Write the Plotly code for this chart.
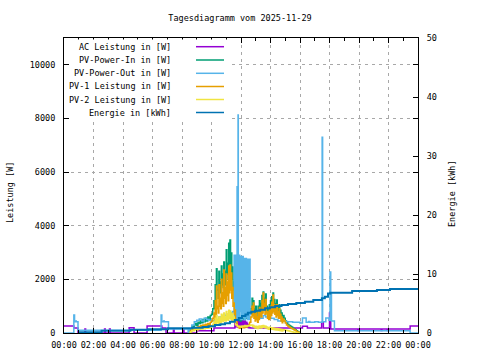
import plotly.graph_objects as go
import pandas as pd

DAY = "2025-11-29"

def ts(hm):
    h, m = hm.split(":")
    if h == "24":
        return "2025-11-30 00:00"
    return f"{DAY} {hm}"

# ---------------- data ----------------
# AC Leistung [W]
ac_times = ["00:00", "00:40", "00:57", "01:25", "01:28", "02:45", "02:48", "03:05", "03:08",
            "04:25", "04:45", "05:38", "06:38", "06:55", "07:25", "07:28", "08:05", "08:08",
            "09:00", "10:10",
            "11:35", "11:36", "11:37", "11:38", "11:39", "11:40", "11:41", "11:42", "11:43",
            "11:44", "11:45", "11:46", "11:47", "11:48", "11:49", "11:50", "11:51", "11:52",
            "11:53", "11:54", "11:55", "11:56", "11:57", "11:58", "11:59", "12:00", "12:02",
            "12:03", "12:05", "12:06", "12:08", "12:09", "12:11", "12:12", "12:14", "12:15",
            "12:17", "12:18", "12:20", "12:21", "12:23", "12:24", "12:26", "12:27", "12:29",
            "12:30", "12:32", "12:33", "12:37",
            "16:10", "16:30", "17:28", "17:35", "18:00", "18:05", "19:55", "19:58", "21:30",
            "21:33", "21:55", "21:58", "23:28", "24:00"]
ac_values = [260, 190, 0, 150, 0, 150, 0, 150, 0,
             200, 0, 260, 190, 0, 150, 0, 120, 0,
             80, 190,
             400, 220, 450, 250, 930, 300, 480, 250, 450,
             220, 500, 250, 420, 230, 480, 250, 450, 220,
             400, 250, 500, 230, 450, 250, 480, 220, 450,
             250, 480, 220, 420, 250, 450, 230, 400, 250,
             450, 220, 380, 250, 400, 230, 350, 220, 300,
             200, 280, 200, 190,
             250, 190, 400, 190, 750, 150, 90, 150, 90,
             150, 90, 150, 260, 260]

# PV-Power-In, PV-1, PV-2 [W] : 5-minute readings 08:30 ... 16:00
pv_start, pv_end = "08:30", "16:00"
pv_in = [50, 150, 250, 200, 300, 350,
         280, 400, 350, 450, 380, 500, 420, 550, 450, 600, 500, 650,
         700, 900, 1200, 1800, 2400, 1600, 2300, 1900, 2500, 2200, 2650, 2300,
         3100, 2600, 3350, 3470, 2980, 2460, 1900, 1340, 800, 600, 500, 450,
         500, 550, 500, 600, 550, 650, 700, 800, 900, 1300, 1200, 900,
         1000, 800, 1000, 1200, 1100, 1400, 1530, 1300, 1450, 1000, 900, 1050,
         1200, 1350, 1490, 1250, 1100, 1230, 950, 1050, 850, 750, 650, 550,
         450, 380, 320, 280, 250, 220, 180, 150, 120, 80, 50, 20,
         0]
pv1 = [20, 80, 120, 100, 150, 200,
       150, 230, 200, 280, 220, 300, 250, 330, 260, 350, 300, 400,
       450, 550, 750, 1200, 1750, 1000, 1800, 1300, 2000, 1500, 2350, 1700,
       2200, 1900, 2500, 2540, 2240, 1700, 1120, 860, 400, 250, 200, 180,
       200, 220, 200, 250, 220, 260, 300, 400, 600, 1000, 1120, 700,
       750, 600, 800, 950, 850, 1200, 1490, 1100, 1250, 800, 780, 850,
       1000, 1150, 1420, 1050, 900, 1050, 800, 900, 700, 600, 520, 450,
       370, 300, 260, 220, 200, 170, 150, 120, 100, 60, 40, 10,
       0]
pv2 = [20, 50, 100, 80, 120, 130,
       110, 150, 140, 160, 150, 180, 160, 200, 180, 220, 190, 230,
       250, 330, 420, 550, 650, 500, 600, 550, 700, 650, 750, 600,
       800, 700, 850, 820, 750, 700, 600, 480, 300, 250, 230, 250,
       220, 260, 240, 280, 250, 270, 260, 280, 300, 300, 280, 250,
       250, 230, 250, 260, 250, 270, 280, 260, 250, 220, 200, 210,
       200, 200, 190, 180, 170, 170, 160, 150, 140, 130, 120, 110,
       100, 90, 80, 70, 60, 50, 40, 30, 20, 10, 0, 0,
       0]

# short dips between the 5-minute readings (2.5 min later), morning 10:10-11:35
dip_am_start = "10:10"
pv_in_dip_am = [900, 1300, 1600, 1300, 1700, 1500, 1800, 1700, 2000, 1800, 2200, 2000,
                2400, 2500, 2000, 1600, 1300, 900]
pv1_dip_am = [500, 700, 900, 750, 1000, 900, 1100, 1000, 1300, 1100, 1400, 1200,
              1500, 1600, 1300, 1000, 700, 500]
pv2_dip_am = [300, 350, 400, 350, 400, 380, 450, 420, 480, 450, 500, 480,
              550, 520, 480, 450, 400, 320]
# afternoon 12:45-14:45
dip_pm_start = "12:45"
pv_in_dip_pm = [800, 700, 600, 650, 550, 650, 800, 750, 900, 1000, 850, 900, 700,
                650, 700, 800, 900, 950, 850, 750, 800, 700, 700, 600, 500]
pv1_dip_pm = [650, 550, 450, 500, 400, 500, 650, 600, 750, 850, 700, 750, 550,
              500, 550, 650, 750, 800, 700, 600, 650, 550, 550, 450, 380]
pv2_dip_pm = [240, 220, 190, 190, 170, 190, 200, 190, 210, 220, 200, 190, 160,
              140, 150, 140, 140, 130, 120, 110, 110, 100, 90, 80, 70]

# PV-Power-Out [W]
out_times = ["00:00", "00:40", "00:43", "00:48", "00:50", "00:57", "06:35", "06:38", "06:45",
             "06:48", "07:05", "08:25", "08:30", "08:40", "08:50", "09:00", "09:10", "09:20",
             "09:30", "09:40", "09:50", "10:00", "10:15", "10:30", "10:45", "11:00", "11:15",
             "11:25",
             "11:32", "11:33", "11:34", "11:35", "11:36", "11:37", "11:38", "11:39", "11:40",
             "11:41", "11:42", "11:43", "11:44", "11:45", "11:46", "11:47", "11:48", "11:49",
             "11:50", "11:51", "11:52", "11:53", "11:54", "11:55", "11:56", "11:57", "11:58",
             "11:59", "12:00", "12:01", "12:02", "12:03", "12:04", "12:05", "12:06", "12:07",
             "12:08", "12:09", "12:10", "12:11", "12:12", "12:13", "12:14", "12:15", "12:16",
             "12:17", "12:18", "12:19", "12:20", "12:21", "12:22", "12:23", "12:24", "12:25",
             "12:26", "12:27", "12:28", "12:29", "12:30", "12:31", "12:32", "12:33", "12:34",
             "12:35", "12:36", "12:37",
             "12:45", "12:50", "13:00", "13:10", "13:20",
             "13:30", "13:40", "13:50", "14:00", "14:15", "14:30", "15:00", "15:30", "16:00",
             "16:10", "16:25", "16:35", "16:40", "17:00", "17:15", "17:30", "17:32", "17:45",
             "17:58", "18:02", "18:05", "18:08", "18:20", "23:28", "24:00"]
out_values = [0, 670, 420, 450, 420, 100, 670, 420, 450,
              420, 150, 30, 150, 300, 420, 480, 520, 450,
              550, 500, 480, 450, 500, 600, 650, 700, 750,
              800,
              2900, 500, 2900, 600, 2900, 500, 2900, 600, 2900,
              500, 2900, 600, 5450, 500, 5450, 600, 8130, 500,
              2900, 600, 2900, 500, 2900, 1000, 900, 1100, 800,
              1000, 2850, 500, 2850, 600, 2850, 500, 2850, 600,
              2850, 1000, 900, 1100, 900, 2780, 500, 2780, 600,
              2780, 500, 2780, 600, 2780, 1000, 900, 1100, 900,
              2750, 500, 2750, 600, 2750, 500, 2750, 600, 2750,
              500, 2750, 700,
              800, 650, 600, 700, 550,
              650, 600, 700, 550, 500, 450, 420, 400, 370,
              560, 400, 430, 400, 420, 400, 7300, 420, 560,
              480, 2270, 1500, 450, 80, 0, 0]

# Energie [kWh]
en_times = ["00:57", "02:33", "04:30", "05:42", "07:03", "08:42", "09:24", "09:48", "10:14",
            "10:36", "10:55", "11:15", "11:35", "11:51", "12:04", "12:18", "12:28", "12:42",
            "12:57", "13:18", "13:38", "13:58", "14:19", "14:45", "15:11", "15:45", "16:20",
            "16:54", "17:29", "17:41", "17:54", "18:03", "19:32", "21:13", "22:06", "24:00"]
en_values = [0.12, 0.39, 0.56, 0.63, 0.80, 0.90, 1.00, 1.15, 1.36,
             1.50, 1.64, 1.90, 2.20, 2.55, 2.88, 3.15, 3.44, 3.60,
             3.78, 3.95, 4.20, 4.36, 4.58, 4.75, 4.90, 5.10, 5.30,
             5.60, 5.88, 6.15, 6.70, 6.83, 7.10, 7.29, 7.46, 7.46]

names = ["AC Leistung in [W]", "PV-Power-In in [W]", "PV-Power-Out in [W]",
         "PV-1 Leistung in [W]", "PV-2 Leistung in [W]", "Energie in [kWh]"]
colors = ["#9400d3", "#009e73", "#56b4e9", "#e69f00", "#f0e442", "#0072b2"]

# ---------------- figure ----------------
pv_times = pd.date_range(ts(pv_start), ts(pv_end), freq="5min")
half = pd.Timedelta(seconds=150)


def with_dips(main, dip_am, dip_pm):
    s = pd.Series(main, index=pv_times, dtype=float)
    am = pd.Series(dip_am, index=pd.date_range(ts(dip_am_start), periods=len(dip_am), freq="5min") + half)
    pm = pd.Series(dip_pm, index=pd.date_range(ts(dip_pm_start), periods=len(dip_pm), freq="5min") + half)
    s = pd.concat([s, am, pm]).sort_index()
    return s.index, s.values


pin_x, pin_y = with_dips(pv_in, pv_in_dip_am, pv_in_dip_pm)
p1_x, p1_y = with_dips(pv1, pv1_dip_am, pv1_dip_pm)
p2_x, p2_y = with_dips(pv2, pv2_dip_am, pv2_dip_pm)

fig = go.Figure()
series = [
    ([ts(t) for t in ac_times], ac_values, "y"),
    (pin_x, pin_y, "y"),
    ([ts(t) for t in out_times], out_values, "y"),
    (p1_x, p1_y, "y"),
    (p2_x, p2_y, "y"),
    ([ts(t) for t in en_times], en_values, "y2"),
]
for (x, y, ax), name, col in zip(series, names, colors):
    fig.add_trace(go.Scatter(x=x, y=y, name=name, mode="lines", yaxis=ax,
                             line=dict(color=col, width=2 if ax == "y2" else 1.5, shape="hv")))

FONT = "DejaVu Sans Mono"
grid = dict(showgrid=True, gridcolor="#a8a8a8", griddash="3px,4px", gridwidth=1)
fig.update_layout(
    width=480, height=360,
    margin=dict(l=64, r=62, t=38, b=27),
    paper_bgcolor="white", plot_bgcolor="white",
    showlegend=False,
    font=dict(family=FONT, size=8.5, color="black"),
    title=dict(text="Tagesdiagramm vom 2025-11-29", x=0.5, xanchor="center",
               y=1 - 18 / 360, yanchor="middle", font=dict(family=FONT, size=8.5)),
    xaxis=dict(type="date", range=[ts("00:00"), ts("24:00")], tick0=ts("00:00"),
               dtick=7200000, tickformat="%H:%M", ticks="inside", ticklen=5,
               tickcolor="black", showline=True, linecolor="black", mirror="ticks",
               zeroline=False, ticklabelstandoff=4, automargin=False,
               minor=dict(dtick=3600000, ticks="inside", ticklen=3, tickcolor="black",
                          showgrid=False),
               **grid),
    yaxis=dict(range=[0, 11000], tick0=0, dtick=2000, ticks="inside", ticklen=5,
               tickcolor="black", showline=True, linecolor="black", mirror="ticks",
               zeroline=False, tickformat="d", ticklabelstandoff=6, automargin=False,
               **grid),
    yaxis2=dict(range=[0, 50], tick0=0, dtick=10, overlaying="y", side="right",
                ticks="inside", ticklen=5, tickcolor="black", showline=True,
                linecolor="black", showgrid=False, zeroline=False, ticklabelstandoff=6,
                automargin=False),
)

# axis titles
fig.add_annotation(text="Leistung [W]", textangle=-90, xref="paper", yref="paper",
                   x=(10 - 64) / 354, y=(333 - 193) / 295, showarrow=False,
                   xanchor="center", yanchor="middle")
fig.add_annotation(text="Energie [kWh]", textangle=-90, xref="paper", yref="paper",
                   x=(452 - 64) / 354, y=(333 - 193) / 295, showarrow=False,
                   xanchor="center", yanchor="middle")

# opaque key box (gnuplot style: text right-aligned, sample on the right)
fig.add_shape(type="rect", xref="paper", yref="paper", x0=(70 - 64) / 354,
              x1=(228 - 64) / 354, y0=(333 - 119) / 295, y1=(333 - 39.5) / 295,
              fillcolor="white", line_width=0, layer="above")
row_y = [46.7, 60, 73.3, 86.5, 99.5, 112.5]
for name, col, ry in zip(names, colors, row_y):
    yp = (333 - ry) / 295
    fig.add_annotation(text=name, xref="paper", yref="paper", x=(173 - 64) / 354, y=yp,
                       xanchor="right", yanchor="middle", showarrow=False)
    fig.add_shape(type="line", xref="paper", yref="paper", x0=(196 - 64) / 354,
                  x1=(224 - 64) / 354, y0=yp, y1=yp, line=dict(color=col, width=1.5),
                  layer="above")

fig.write_html("out.html", config={"displayModeBar": False},
               post_script="document.body.style.margin='0';document.body.style.overflow='hidden';")
